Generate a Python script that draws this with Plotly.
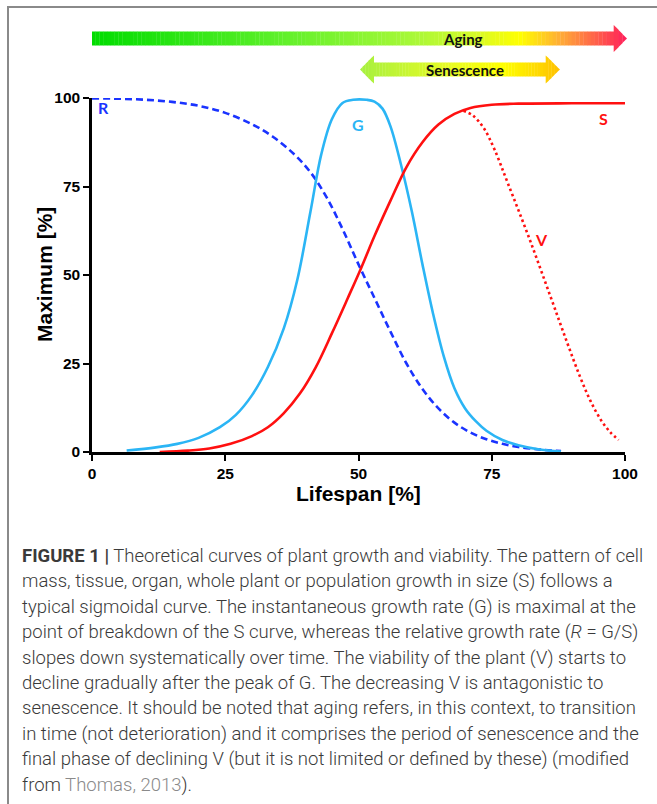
import plotly.graph_objects as go
import numpy as np

# ---------------- data ----------------
R_x = [0, 5, 10, 15, 20, 25, 30, 34, 38, 41, 44, 47, 50, 53, 56, 59, 62, 65, 68, 71, 74, 77, 80, 84, 88]
R_y = [99.9, 99.8, 99.5, 98.9, 97.8, 95.8, 92.6, 89, 84, 79, 72, 63, 53, 43.5, 34, 25, 17.8, 12.3, 8.3, 5.5, 3.6, 2.3, 1.4, 0.7, 0.25]

G_x = [6.5, 12, 16, 20, 24, 27, 30, 33, 36, 38.5, 41, 43, 45, 47, 49, 51.5, 53, 54.5, 56, 58, 60, 62, 64, 66, 68, 70, 72, 74, 77, 80, 84, 88]
G_y = [0.4, 1.3, 2.3, 4.0, 7.0, 10.5, 16, 24, 35, 48.5, 68, 84, 94, 98.6, 99.5, 99.5, 99, 97, 92, 81, 68, 53, 39, 27, 18, 12.3, 8.7, 6.0, 3.4, 1.9, 0.7, 0.15]

S_x = [12.7, 18, 22, 26, 30, 33, 36, 39, 42, 45, 48, 50.5, 53, 56, 59, 62, 65, 68, 71, 75, 80, 90, 100]
S_y = [0, 0.4, 1.0, 2.3, 4.5, 7.0, 11, 16.5, 24, 33.5, 43.5, 52, 61, 71, 80.5, 87.5, 92.5, 95.5, 97.2, 98.1, 98.4, 98.5, 98.5]

V_x = [69.7, 71.5, 73.5, 75.5, 78, 82, 86, 89, 91.5, 93.5, 95.5, 97.3, 98.8]
V_y = [96.4, 95, 91.5, 85.5, 76, 60.5, 44, 31.5, 21.5, 14.5, 9, 5.5, 3.4]

x_ticks = [0, 25, 50, 75, 100]
y_ticks = [0, 25, 50, 75, 100]

curve_labels = ["R", "G", "S", "V"]
label_x = [2.1, 49.9, 96.0, 84.4]
label_y = [97.3, 92.4, 94.3, 59.9]

caption_lines = [
    "<b>FIGURE 1 |</b> Theoretical curves of plant growth and viability. The pattern of cell",
    "mass, tissue, organ, whole plant or population growth in size (S) follows a",
    "typical sigmoidal curve. The instantaneous growth rate (G) is maximal at the",
    "point of breakdown of the S curve, whereas the relative growth rate (<i>R</i> = G/S)",
    "slopes down systematically over time. The viability of the plant (V) starts to",
    "decline gradually after the peak of G. The decreasing V is antagonistic to",
    "senescence. It should be noted that aging refers, in this context, to transition",
    "in time (not deterioration) and it comprises the period of senescence and the",
    "final phase of declining V (but it is not limited or defined by these) (modified",
    "from <span style='color:#8a8a8a'>Thomas, 2013</span>).",
]

# ---------------- layout geometry ----------------
W, H = 657, 804
L, T = 92, 98
PW, PH = 533, 354
B = H - T - PH
Rm = W - L - PW

def px2x(px):
    return (px - L) / PW

def py2y(py):
    return (T + PH - py) / PH

BLUE_R = "#1a33ff"
BLUE_G = "#2bb5f5"
RED = "#ff1010"

fig = go.Figure()
fig.add_trace(go.Scatter(x=R_x, y=R_y, mode="lines", cliponaxis=False,
                         line=dict(color=BLUE_R, width=2.6, dash="7px,4px", shape="spline", smoothing=1)))
fig.add_trace(go.Scatter(x=G_x, y=G_y, mode="lines", cliponaxis=False,
                         line=dict(color=BLUE_G, width=2.6, shape="spline", smoothing=1)))
fig.add_trace(go.Scatter(x=S_x, y=S_y, mode="lines", cliponaxis=False,
                         line=dict(color=RED, width=2.6, shape="spline", smoothing=1)))
fig.add_trace(go.Scatter(x=V_x, y=V_y, mode="lines", cliponaxis=False,
                         line=dict(color=RED, width=2.6, dash="2.5px,3px", shape="spline", smoothing=1)))

label_colors = [BLUE_R, BLUE_G, RED, RED]
for t, lx, ly, c in zip(curve_labels, label_x, label_y, label_colors):
    fig.add_annotation(x=lx, y=ly, text="<b>" + t + "</b>", showarrow=False,
                       font=dict(family="Lato", size=16, color=c), xanchor="center", yanchor="middle")

# ---------------- gradient arrows ----------------
def hex2rgb(h):
    h = h.lstrip("#")
    return [int(h[i:i + 2], 16) for i in (0, 2, 4)]

def color_at(stops, f):
    for (f0, c0), (f1, c1) in zip(stops[:-1], stops[1:]):
        if f0 <= f <= f1:
            t = 0 if f1 == f0 else (f - f0) / (f1 - f0)
            a, b = hex2rgb(c0), hex2rgb(c1)
            return "rgb(%d,%d,%d)" % tuple(round(a[i] + (b[i] - a[i]) * t) for i in range(3))
    return stops[-1][1]

shapes = []

def arrow(x0, x1, heads, cy, bar_h, head_h, stops, n=120):
    lb = heads.get("left")
    rb = heads.get("right")

    def half(x):
        if rb is not None and x > rb:
            return head_h * (x1 - x) / (x1 - rb)
        if lb is not None and x < lb:
            return head_h * (x - x0) / (lb - x0)
        return bar_h

    bps = sorted([x0] + [b for b in (lb, rb) if b is not None] + [x1])
    total = x1 - x0
    for a, b in zip(bps[:-1], bps[1:]):
        k = max(2, int(round(n * (b - a) / total)))
        xs = np.linspace(a, b, k + 1)
        for xa, xb in zip(xs[:-1], xs[1:]):
            eps = 1e-9
            ha = half(xa + eps)
            hb = half(xb - eps)
            xa2 = xa - 0.3 if xa > x0 else xa
            path = "M %f,%f L %f,%f L %f,%f L %f,%f Z" % (
                px2x(xa2), py2y(cy - ha), px2x(xb), py2y(cy - hb),
                px2x(xb), py2y(cy + hb), px2x(xa2), py2y(cy + ha))
            col = color_at(stops, ((xa + xb) / 2 - x0) / total)
            shapes.append(dict(type="path", path=path, xref="paper", yref="paper",
                               fillcolor=col, line=dict(width=0), layer="above"))

aging_stops = [(0, "#00dc00"), (0.35, "#5ef02a"), (0.6, "#a8f838"), (0.72, "#d8fa28"),
               (0.8, "#ffff00"), (0.88, "#ffa838"), (1.0, "#ff1e5a")]
sen_stops = [(0, "#a6f040"), (0.45, "#e8fc24"), (0.72, "#ffff00"), (1.0, "#ffc000")]

arrow(92, 627, {"right": 614}, 38.5, 7, 13.5, aging_stops, n=140)
arrow(360, 560, {"left": 374, "right": 546}, 69.5, 7, 14, sen_stops, n=70)

fig.add_annotation(x=px2x(463), y=py2y(38.5), xref="paper", yref="paper", text="<b>Aging</b>",
                   showarrow=False, xanchor="center", yanchor="middle",
                   font=dict(family="Lato", size=15, color="#111"))
fig.add_annotation(x=px2x(465), y=py2y(69.5), xref="paper", yref="paper", text="<b>Senescence</b>",
                   showarrow=False, xanchor="center", yanchor="middle",
                   font=dict(family="Lato", size=15, color="#111"))

# ---------------- frame ----------------
shapes.append(dict(type="line", xref="paper", yref="paper", x0=px2x(8), x1=px2x(8),
                   y0=py2y(7), y1=py2y(H + 10), line=dict(color="#8a8a8a", width=2)))
shapes.append(dict(type="line", xref="paper", yref="paper", x0=px2x(7), x1=px2x(W + 10),
                   y0=py2y(7), y1=py2y(7), line=dict(color="#8a8a8a", width=2)))

# ---------------- axis titles ----------------
fig.add_annotation(x=0.5, y=py2y(493), xref="paper", yref="paper", text="<b>Lifespan [%]</b>",
                   showarrow=False, xanchor="center", yanchor="middle",
                   font=dict(family="Liberation Sans", size=21, color="#000"))
fig.add_annotation(x=px2x(44), y=0.5, xref="paper", yref="paper", text="<b>Maximum [%]</b>",
                   showarrow=False, textangle=-90, xanchor="center", yanchor="middle",
                   font=dict(family="Liberation Sans", size=21, color="#000"))

# ---------------- caption ----------------
for i, line in enumerate(caption_lines):
    fig.add_annotation(x=px2x(20), y=py2y(556 + i * 25.4), xref="paper", yref="paper",
                       text=line, showarrow=False, xanchor="left", yanchor="middle", align="left",
                       font=dict(family="Roboto", size=18.5, color="#3a3a3a", weight=300))

axis_common = dict(showgrid=False, zeroline=False, showline=True, linecolor="#000", linewidth=2.5,
                   ticks="outside", ticklen=6, tickwidth=2, tickcolor="#000",
                   tickfont=dict(family="Liberation Sans", size=15.5, color="#000", weight="bold"),
                   fixedrange=True)

fig.update_layout(
    width=W, height=H,
    margin=dict(l=L, r=Rm, t=T, b=B, pad=0),
    paper_bgcolor="white", plot_bgcolor="white",
    showlegend=False,
    xaxis=dict(range=[0, 100], tickvals=x_ticks, ticktext=[str(v) for v in x_ticks], **axis_common),
    yaxis=dict(range=[0, 100], tickvals=y_ticks, ticktext=[str(v) for v in y_ticks], **axis_common),
    shapes=shapes,
)

fig.write_html("out.html", config={"displayModeBar": False},
               post_script="document.body.style.margin='0';")
